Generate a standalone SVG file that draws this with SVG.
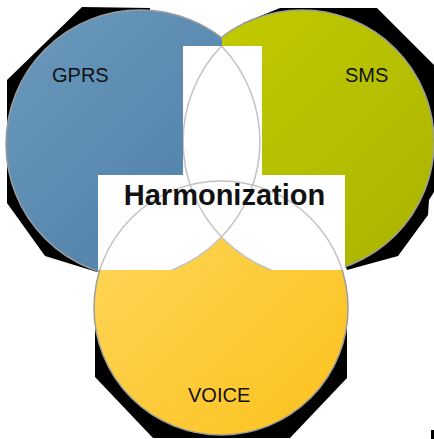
<svg xmlns="http://www.w3.org/2000/svg" width="434" height="439" viewBox="0 0 434 439">
<style>
.shadow{fill:#000}
.ring{stroke:#9c9c9c;stroke-width:1.5}
.arc{fill:none;stroke:#c2c2c2;stroke-width:1.5}
.lbl{font-family:"Liberation Sans",Arial,sans-serif;font-size:20px;fill:#111}
.title{font-family:"Liberation Sans",Arial,sans-serif;font-size:29px;font-weight:bold;fill:#111}
</style>
<defs>
<linearGradient id="gBlue" gradientUnits="userSpaceOnUse" x1="6" y1="10" x2="274" y2="278">
<stop offset="0" stop-color="#6b99be"/><stop offset="1" stop-color="#4a7ba1"/>
</linearGradient>
<linearGradient id="gGreen" gradientUnits="userSpaceOnUse" x1="170" y1="10" x2="434" y2="274">
<stop offset="0" stop-color="#c4cc00"/><stop offset="1" stop-color="#aab400"/>
</linearGradient>
<linearGradient id="gYellow" gradientUnits="userSpaceOnUse" x1="94" y1="182" x2="348" y2="436">
<stop offset="0" stop-color="#ffd85e"/><stop offset="1" stop-color="#fcc11c"/>
</linearGradient>
<clipPath id="leftHalf"><rect x="0" y="0" width="222" height="439"/></clipPath>
<clipPath id="rightHalf"><rect x="222" y="0" width="212" height="439"/></clipPath>
<clipPath id="whiteClip">
<path d="M183 46H262V175H345V270H98V175H183Z"/>
</clipPath>
<mask id="voiceOnly" maskUnits="userSpaceOnUse" x="0" y="0" width="434" height="439">
<rect width="434" height="439" fill="#000"/>
<circle cx="221" cy="308" r="127" fill="#fff"/>
<circle cx="121.9" cy="141.5" r="138" fill="#000"/>
<circle cx="321.1" cy="141.5" r="138" fill="#000"/>
</mask>
</defs>
<g id="shadows">
<polygon class="shadow" points="82,7 150,8 140,144 97,272 45,256 7,203 7,80"/>
<polygon class="shadow" points="243,23 280,8 377,8 434,65 434,192 429,200 428,215 398,256 347,270 302,142"/>
<polygon class="shadow" points="95,300 95,377 153,438 290,438 347,378 347,300"/>
<rect class="shadow" x="431" y="430" width="3" height="9"/>
</g>
<g id="gprs">
<circle class="ring" cx="140" cy="144" r="134" fill="url(#gBlue)" clip-path="url(#leftHalf)"/>
<text class="lbl" x="52" y="82">GPRS</text>
</g>
<g id="sms">
<circle class="ring" cx="302" cy="142" r="132" fill="url(#gGreen)" clip-path="url(#rightHalf)"/>
<text class="lbl" x="345" y="82">SMS</text>
</g>
<g id="voice">
<circle class="ring" cx="221" cy="308" r="127" fill="url(#gYellow)"/>
<text class="lbl" x="188" y="402">VOICE</text>
</g>
<g id="harmonization">
<path d="M183 46H262V175H345V270H98V175H183Z" fill="#fff"/>
<rect x="98" y="175" width="247" height="95" fill="url(#gYellow)" mask="url(#voiceOnly)"/>
<g clip-path="url(#whiteClip)">
<circle class="arc" cx="121.9" cy="141.5" r="138"/>
<circle class="arc" cx="321.1" cy="141.5" r="138"/>
<circle class="arc" cx="221" cy="308" r="127"/>
</g>
<text class="title" x="224.5" y="205" text-anchor="middle">Harmonization</text>
</g>
</svg>
